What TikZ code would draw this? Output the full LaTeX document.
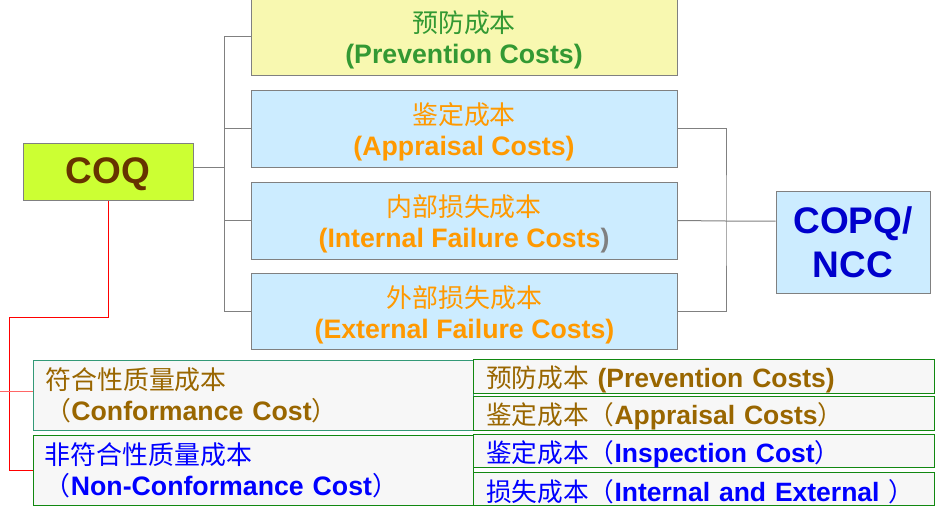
\documentclass[tikz,border=0pt]{standalone}
\usepackage{fontspec}
\usepackage{xcolor}
\setmainfont{Liberation Sans}
\newfontfamily\cjk{Noto Sans CJK SC}[Scale=0.97]
\newcommand{\zh}[1]{{\cjk\mdseries #1}}
\definecolor{yellowfill}{HTML}{F8F8B0}
\definecolor{prevgreen}{HTML}{339933}
\definecolor{bluefill}{HTML}{CCECFF}
\definecolor{costorange}{HTML}{FF9900}
\definecolor{limefill}{HTML}{CCFF33}
\definecolor{coqbrown}{HTML}{663300}
\definecolor{copqblue}{HTML}{0000CC}
\definecolor{linegray}{HTML}{808080}
\definecolor{palefill}{HTML}{F7F7F7}
\definecolor{goldbrown}{HTML}{996600}
\definecolor{ncblue}{HTML}{0000FF}
\definecolor{tealgreen}{HTML}{339977}
\definecolor{darkgreen}{HTML}{118811}
\definecolor{linkred}{HTML}{FF0000}
\definecolor{linkpink}{HTML}{FF6666}

\begin{document}
\begin{tikzpicture}[x=1pt, y=-1pt,
  costbox/.style={draw=linegray, line width=1pt, inner sep=0pt, align=center,
    minimum width=426pt, minimum height=77pt, text height=54pt, text depth=0pt,
    font=\fontsize{26.7}{31}\selectfont\bfseries},
  catbox/.style={draw=darkgreen, line width=1pt, fill=palefill, inner xsep=12pt, inner ysep=0pt,
    align=left, text width=416pt, minimum height=70pt,
    font=\fontsize{26.7}{31}\selectfont\bfseries},
  rowbox/.style={draw=darkgreen, line width=1pt, fill=palefill, inner xsep=13pt, inner ysep=0pt,
    align=left, text width=435pt, minimum height=33pt,
    execute at begin node={\rule{0pt}{28pt}},
    font=\fontsize{26.5}{31}\selectfont\bfseries},
  link/.style={draw=linegray, line width=1pt},
  redlink/.style={draw=linkred, line width=1pt}]
\useasboundingbox (0,0) rectangle (935,507);

% COQ and its four cost parts
\node[draw=linegray, line width=1pt, fill=limefill, minimum width=170pt, minimum height=57pt,
  text depth=2pt, font=\fontsize{37}{40}\selectfont\bfseries, text=coqbrown] (coq) at (108,171.5) {COQ};
\node[costbox, fill=yellowfill, text=prevgreen] (prev) at (464,36.5) {\zh{预防成本}\\(Prevention Costs)};
\node[costbox, fill=bluefill, text=costorange] (appr) at (464,128.5) {\zh{鉴定成本}\\(Appraisal Costs)};
\node[costbox, fill=bluefill, text=costorange] (intf) at (464,220.5) {\zh{内部损失成本}\\(Internal Failure Costs\textcolor{linegray}{)}};
\node[costbox, fill=bluefill, text=costorange, minimum height=76pt] (extf) at (464.5,311) {\zh{外部损失成本}\\(External Failure Costs)};

% COPQ / NCC
\node[draw=linegray, line width=1pt, fill=bluefill, minimum width=154pt, minimum height=102pt,
  align=center, font=\fontsize{37}{44}\selectfont\bfseries, text=copqblue] (copq) at (853,242) {COPQ/\\NCC};

% tree from COQ
\coordinate (trunk) at (224,167);
\draw[link] (coq.east |- trunk) -- (trunk);
\draw[link] (trunk |- prev) -- (trunk |- extf);
\foreach \part in {prev, appr, intf, extf}
  \draw[link] (trunk |- \part) -- (\part.west);

% tree to COPQ
\coordinate (merge) at (726,221);
\draw[link] (appr.east) -| (merge) |- (extf.east);
\draw[link] (intf.east) -- (merge) -- (merge -| copq.west);

% conformance / non-conformance
\node[catbox, draw=tealgreen, text=goldbrown] (conf) at (253.5,395)
  {\zh{符合性质量成本}\\\zh{（}Conformance Cost\zh{）}};
\node[catbox, minimum width=440pt, text width=416pt, text=ncblue] (ncon) at (253,470)
  {\zh{非符合性质量成本}\\\zh{（}Non-Conformance Cost\zh{）}};

\node[rowbox, text=goldbrown] (rprev) at (703.5,376.5) {\zh{预防成本} (Prevention Costs)};
\node[rowbox, text=goldbrown] (rappr) at (703.5,413.5) {\zh{鉴定成本（}Appraisal Costs\zh{）}};
\node[rowbox, text=ncblue] (rinsp) at (703.5,451) {\zh{鉴定成本（}Inspection Cost\zh{）}};
\node[rowbox, text=ncblue] (rloss) at (703.5,488.5) {\mbox{\zh{损失成本（}Internal and External \zh{）}}};

% red links
\coordinate (bend) at (9,317);
\draw[redlink] (coq.south) |- (bend) |- (ncon.west);
\coordinate (lft) at (0,391);
\draw[draw=linkpink, line width=0.8pt] (lft) -- (lft -| conf.west);
\end{tikzpicture}
\end{document}
